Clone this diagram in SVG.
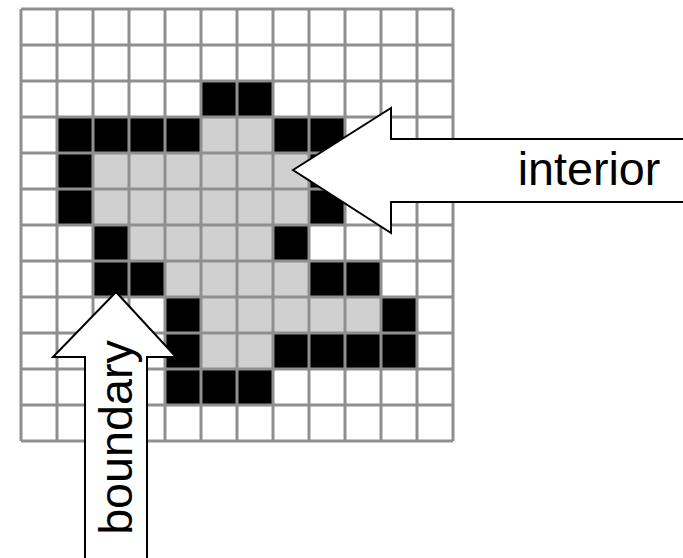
<svg xmlns="http://www.w3.org/2000/svg" xmlns:xlink="http://www.w3.org/1999/xlink" width="683" height="558" viewBox="0 0 683 558">
<style>
.b{fill:#000}
.g{fill:#d0d0d0}
.grid{stroke:#8f8f8f;stroke-width:3;fill:none}
.arrow{fill:#fff;stroke:#000;stroke-width:2;stroke-linejoin:miter}
.lbl{font-family:"Liberation Sans",Arial,sans-serif;font-size:46.7px;fill:#000}
</style>
<defs>
<rect id="c" width="36" height="36"/>
</defs>
<rect width="683" height="558" fill="#fff"/>
<g id="cells">
<!-- row 2 -->
<use xlink:href="#c" class="b" x="201" y="81"/><use xlink:href="#c" class="b" x="237" y="81"/>
<!-- row 3 -->
<use xlink:href="#c" class="b" x="57" y="117"/><use xlink:href="#c" class="b" x="93" y="117"/><use xlink:href="#c" class="b" x="129" y="117"/><use xlink:href="#c" class="b" x="165" y="117"/>
<use xlink:href="#c" class="g" x="201" y="117"/><use xlink:href="#c" class="g" x="237" y="117"/>
<use xlink:href="#c" class="b" x="273" y="117"/><use xlink:href="#c" class="b" x="309" y="117"/>
<!-- row 4 -->
<use xlink:href="#c" class="b" x="57" y="153"/>
<use xlink:href="#c" class="g" x="93" y="153"/><use xlink:href="#c" class="g" x="129" y="153"/><use xlink:href="#c" class="g" x="165" y="153"/><use xlink:href="#c" class="g" x="201" y="153"/><use xlink:href="#c" class="g" x="237" y="153"/><use xlink:href="#c" class="g" x="273" y="153"/>
<use xlink:href="#c" class="b" x="309" y="153"/>
<!-- row 5 -->
<use xlink:href="#c" class="b" x="57" y="189"/>
<use xlink:href="#c" class="g" x="93" y="189"/><use xlink:href="#c" class="g" x="129" y="189"/><use xlink:href="#c" class="g" x="165" y="189"/><use xlink:href="#c" class="g" x="201" y="189"/><use xlink:href="#c" class="g" x="237" y="189"/><use xlink:href="#c" class="g" x="273" y="189"/>
<use xlink:href="#c" class="b" x="309" y="189"/>
<!-- row 6 -->
<use xlink:href="#c" class="b" x="93" y="225"/>
<use xlink:href="#c" class="g" x="129" y="225"/><use xlink:href="#c" class="g" x="165" y="225"/><use xlink:href="#c" class="g" x="201" y="225"/><use xlink:href="#c" class="g" x="237" y="225"/>
<use xlink:href="#c" class="b" x="273" y="225"/>
<!-- row 7 -->
<use xlink:href="#c" class="b" x="93" y="261"/><use xlink:href="#c" class="b" x="129" y="261"/>
<use xlink:href="#c" class="g" x="165" y="261"/><use xlink:href="#c" class="g" x="201" y="261"/><use xlink:href="#c" class="g" x="237" y="261"/><use xlink:href="#c" class="g" x="273" y="261"/>
<use xlink:href="#c" class="b" x="309" y="261"/><use xlink:href="#c" class="b" x="345" y="261"/>
<!-- row 8 -->
<use xlink:href="#c" class="b" x="165" y="297"/>
<use xlink:href="#c" class="g" x="201" y="297"/><use xlink:href="#c" class="g" x="237" y="297"/><use xlink:href="#c" class="g" x="273" y="297"/><use xlink:href="#c" class="g" x="309" y="297"/><use xlink:href="#c" class="g" x="345" y="297"/>
<use xlink:href="#c" class="b" x="381" y="297"/>
<!-- row 9 -->
<use xlink:href="#c" class="b" x="165" y="333"/>
<use xlink:href="#c" class="g" x="201" y="333"/><use xlink:href="#c" class="g" x="237" y="333"/>
<use xlink:href="#c" class="b" x="273" y="333"/><use xlink:href="#c" class="b" x="309" y="333"/><use xlink:href="#c" class="b" x="345" y="333"/><use xlink:href="#c" class="b" x="381" y="333"/>
<!-- row 10 -->
<use xlink:href="#c" class="b" x="165" y="369"/><use xlink:href="#c" class="b" x="201" y="369"/><use xlink:href="#c" class="b" x="237" y="369"/>
</g>
<g id="grid">
<path class="grid" d="M21,9V441M57,9V441M93,9V441M129,9V441M165,9V441M201,9V441M237,9V441M273,9V441M309,9V441M345,9V441M381,9V441M417,9V441M453,9V441M21,9H453M21,45H453M21,81H453M21,117H453M21,153H453M21,189H453M21,225H453M21,261H453M21,297H453M21,333H453M21,369H453M21,405H453M21,441H453"/>
</g>
<g id="connectors">
<g id="interior-arrow">
<path class="arrow" d="M293,170L391,108V139H690V202H391V233Z"/>
<text class="lbl" x="589" y="185" text-anchor="middle">interior</text>
</g>
<g id="boundary-arrow">
<path class="arrow" d="M116,292L176,357H147V565H85V357H53Z"/>
<text class="lbl" transform="translate(132,437.5) rotate(-90)" text-anchor="middle">boundary</text>
</g>
</g>
</svg>
